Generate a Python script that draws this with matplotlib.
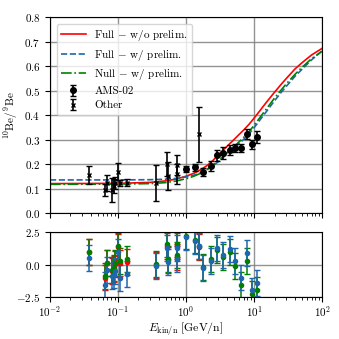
import numpy as np
import matplotlib
matplotlib.use("Agg")
import matplotlib.pyplot as plt

# model curves
e_model = [0.01, 0.1, 0.3, 0.5, 0.7, 1.0, 1.3, 1.6, 2.0, 2.5, 3.0, 4.0, 5.0, 6.0, 7.0,
           8.5, 10, 12, 15, 20, 25, 30, 40, 50, 70, 100]
full_no_prelim = [0.120, 0.121, 0.125, 0.131, 0.138, 0.150, 0.162, 0.175, 0.192, 0.215, 0.238,
                  0.272, 0.298, 0.320, 0.338, 0.363, 0.387, 0.415, 0.450, 0.493, 0.525, 0.550,
                  0.588, 0.612, 0.645, 0.672]
full_prelim = [0.135, 0.135, 0.136, 0.138, 0.141, 0.147, 0.154, 0.163, 0.176, 0.193, 0.210,
               0.240, 0.263, 0.283, 0.300, 0.324, 0.348, 0.377, 0.412, 0.458, 0.492, 0.518,
               0.558, 0.585, 0.625, 0.662]
null_prelim = [0.117, 0.118, 0.120, 0.124, 0.130, 0.140, 0.150, 0.161, 0.176, 0.196, 0.214,
               0.245, 0.269, 0.290, 0.308, 0.333, 0.358, 0.387, 0.423, 0.469, 0.502, 0.528,
               0.566, 0.593, 0.630, 0.660]

# AMS-02 (preliminary)
e_ams = [1.0, 1.36, 1.80, 2.31, 2.89, 3.54, 4.39, 5.26, 6.50, 7.81, 9.44, 11.2]
r_ams = [0.180, 0.187, 0.166, 0.192, 0.235, 0.245, 0.257, 0.264, 0.267, 0.322, 0.280, 0.310]
err_ams = [0.0135, 0.014, 0.016, 0.020, 0.022, 0.026, 0.020, 0.016, 0.016, 0.020, 0.020, 0.024]

# other experiments
e_oth = [0.038, 0.0644, 0.0689, 0.0807, 0.0860, 0.0917, 0.1016, 0.107, 0.134, 0.358,
         0.520, 0.552, 0.730, 0.740, 1.55]
r_oth = [0.155, 0.094, 0.122, 0.094, 0.110, 0.122, 0.169, 0.122, 0.124, 0.124,
         0.200, 0.151, 0.195, 0.160, 0.321]
err_oth = [0.037, 0.025, 0.033, 0.049, 0.030, 0.025, 0.035, 0.012, 0.015, 0.073,
           0.047, 0.057, 0.040, 0.040, 0.113]

# residuals (data - model) / sigma
res_oth_red = [1.0, -1.0, 0.1, -0.5, -0.35, 0.05, 1.35, 0.1, 0.2, 0.0, 1.45, 0.35, 1.4, 0.55, 1.35]
res_oth_green = [0.95, -0.9, 0.15, -0.45, -0.3, 0.15, 1.45, 0.3, 0.4, 0.05, 1.6, 0.45, 1.6, 0.7, 1.45]
res_oth_blue = [0.48, -1.6, -0.4, -0.85, -0.8, -0.5, 0.95, -1.05, -0.7, -0.15, 1.3, 0.2, 1.3, 0.45, 1.4]
res_ams_green = [2.2, 1.9, -0.2, 0.45, 1.1, 0.6, 0.95, -0.1, -1.55, 0.3, -2.3, -1.95]
res_ams_blue = [2.15, 1.8, -0.3, 0.3, 1.25, 0.72, 1.2, 0.3, -1.0, 0.9, -2.0, -1.45]

plt.rcParams['font.family'] = 'serif'
plt.rcParams['font.serif'] = ['cmr10']
plt.rcParams['mathtext.fontset'] = 'cm'
plt.rcParams['axes.formatter.use_mathtext'] = True
plt.rcParams['font.size'] = 8
plt.rcParams['axes.unicode_minus'] = True

fig = plt.figure(figsize=(3.39, 3.39), dpi=100)
ax = fig.add_axes([0.1475, 0.3717, 0.8025, 0.578])
axr = fig.add_axes([0.1475, 0.1239, 0.8025, 0.1917], sharex=ax)

c_red, c_blue, c_green = 'red', '#1f66b0', 'green'

ax.plot(e_model, full_no_prelim, color=c_red, lw=1.2, label=r'Full $-$ w/o prelim.')
ax.plot(e_model, full_prelim, color=c_blue, lw=1.2, ls='--', label=r'Full $-$ w/ prelim.')
ax.plot(e_model, null_prelim, color=c_green, lw=1.2, ls='-.', label=r'Null $-$ w/ prelim.')
ax.errorbar(e_ams, r_ams, yerr=err_ams, fmt='o', color='k', ms=4, capsize=2, elinewidth=1.2,
            label='AMS-02')
ax.errorbar(e_oth, r_oth, yerr=err_oth, fmt='x', color='k', ms=3, capsize=2, elinewidth=1.2,
            mew=1, label='Other')

ax.set_xscale('log')
ax.set_xlim(1e-2, 1e2)
ax.set_ylim(0, 0.8)
ax.set_yticks(np.arange(0, 0.81, 0.1))
ax.set_ylabel(r'$^{10}\mathrm{Be}/^{9}\mathrm{Be}$', labelpad=3)
ax.grid(True, color='gray', lw=1.0, alpha=0.85)
ax.tick_params(labelbottom=False)
ax.legend(loc='upper left', fontsize=8, handlelength=2.2, labelspacing=0.4,
          borderaxespad=0.6)

kw = dict(fmt='o', ms=3, capsize=2, elinewidth=1.1)
axr.errorbar(e_oth, res_oth_red, yerr=1, color=c_red, **kw)
axr.errorbar(e_oth + e_ams, res_oth_green + res_ams_green, yerr=1, color=c_green, **kw)
axr.errorbar(e_oth + e_ams, res_oth_blue + res_ams_blue, yerr=1, color=c_blue, **kw)
axr.set_ylim(-2.5, 2.5)
axr.set_yticks([-2.5, 0, 2.5])
axr.set_yticklabels(['$-2.5$', '$0.0$', '$2.5$'])
axr.grid(True, color='gray', lw=1.0, alpha=0.85)
axr.tick_params(axis='x', pad=2)
axr.set_xlabel(r'$E_{\mathrm{kin/n}}\;[\mathrm{GeV/n}]$', fontsize=8.5, labelpad=0.5)

fig.savefig('out.png', dpi=100)
